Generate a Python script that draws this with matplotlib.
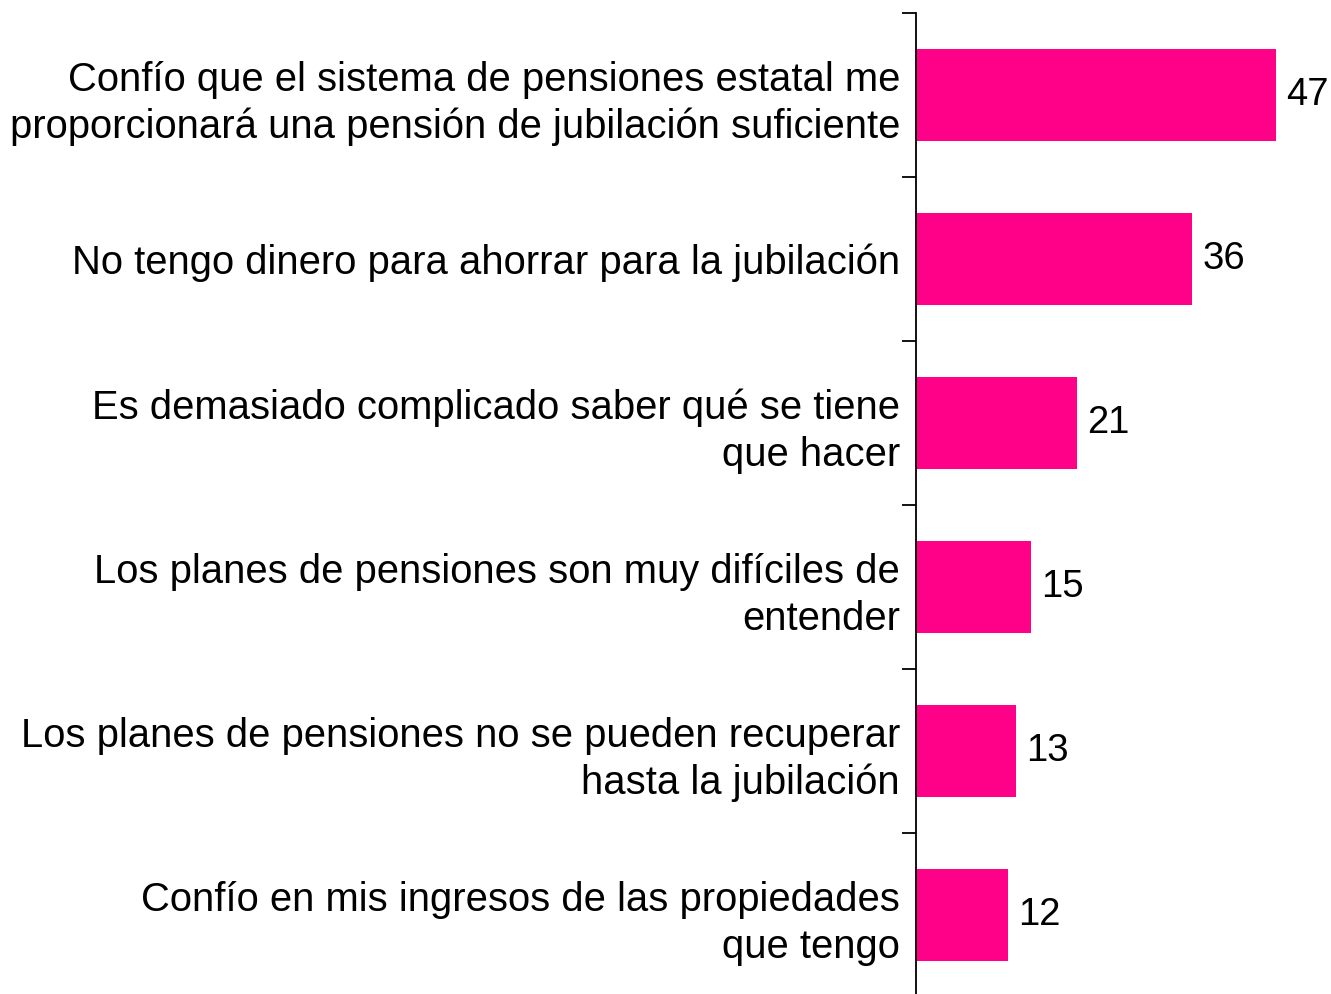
import matplotlib.pyplot as plt
from matplotlib.ticker import FixedLocator

# datos
categorias = [
    'Confío que el sistema de pensiones estatal me\nproporcionará una pensión de jubilación suficiente',
    'No tengo dinero para ahorrar para la jubilación',
    'Es demasiado complicado saber qué se tiene\nque hacer',
    'Los planes de pensiones son muy difíciles de\nentender',
    'Los planes de pensiones no se pueden recuperar\nhasta la jubilación',
    'Confío en mis ingresos de las propiedades\nque tengo',
]
valores = [47, 36, 21, 15, 13, 12]

plt.rcParams['font.family'] = ['Liberation Sans', 'DejaVu Sans']

fig = plt.figure(figsize=(13.31, 9.94), dpi=100)
ax = fig.add_axes([916 / 1331, 1 - 997 / 994, 1 - 916 / 1331, 984 / 994])

pos = list(range(len(valores)))
ax.barh(pos, valores, height=0.56, color='#FF0088')

for p, v in zip(pos, valores):
    ax.text(v + 1.4, p, str(v), va='center', ha='left', fontsize=27.5)

ax.set_xlim(0, 54.2)
ax.set_ylim(5.5, -0.5)

# etiquetas en el centro, marcas en los límites
ax.set_yticks(pos)
ax.set_yticklabels(categorias, fontsize=28.8, linespacing=1.3)
ax.tick_params(axis='y', which='major', length=0, pad=11.5)
ax.yaxis.set_minor_locator(FixedLocator([i - 0.5 for i in range(len(valores) + 1)]))
ax.tick_params(axis='y', which='minor', length=10, width=1.3, direction='out')

ax.set_xticks([])
for s in ['top', 'right', 'bottom']:
    ax.spines[s].set_visible(False)
ax.spines['left'].set_linewidth(1.3)

plt.savefig('out.png', dpi=100)
plt.close()
